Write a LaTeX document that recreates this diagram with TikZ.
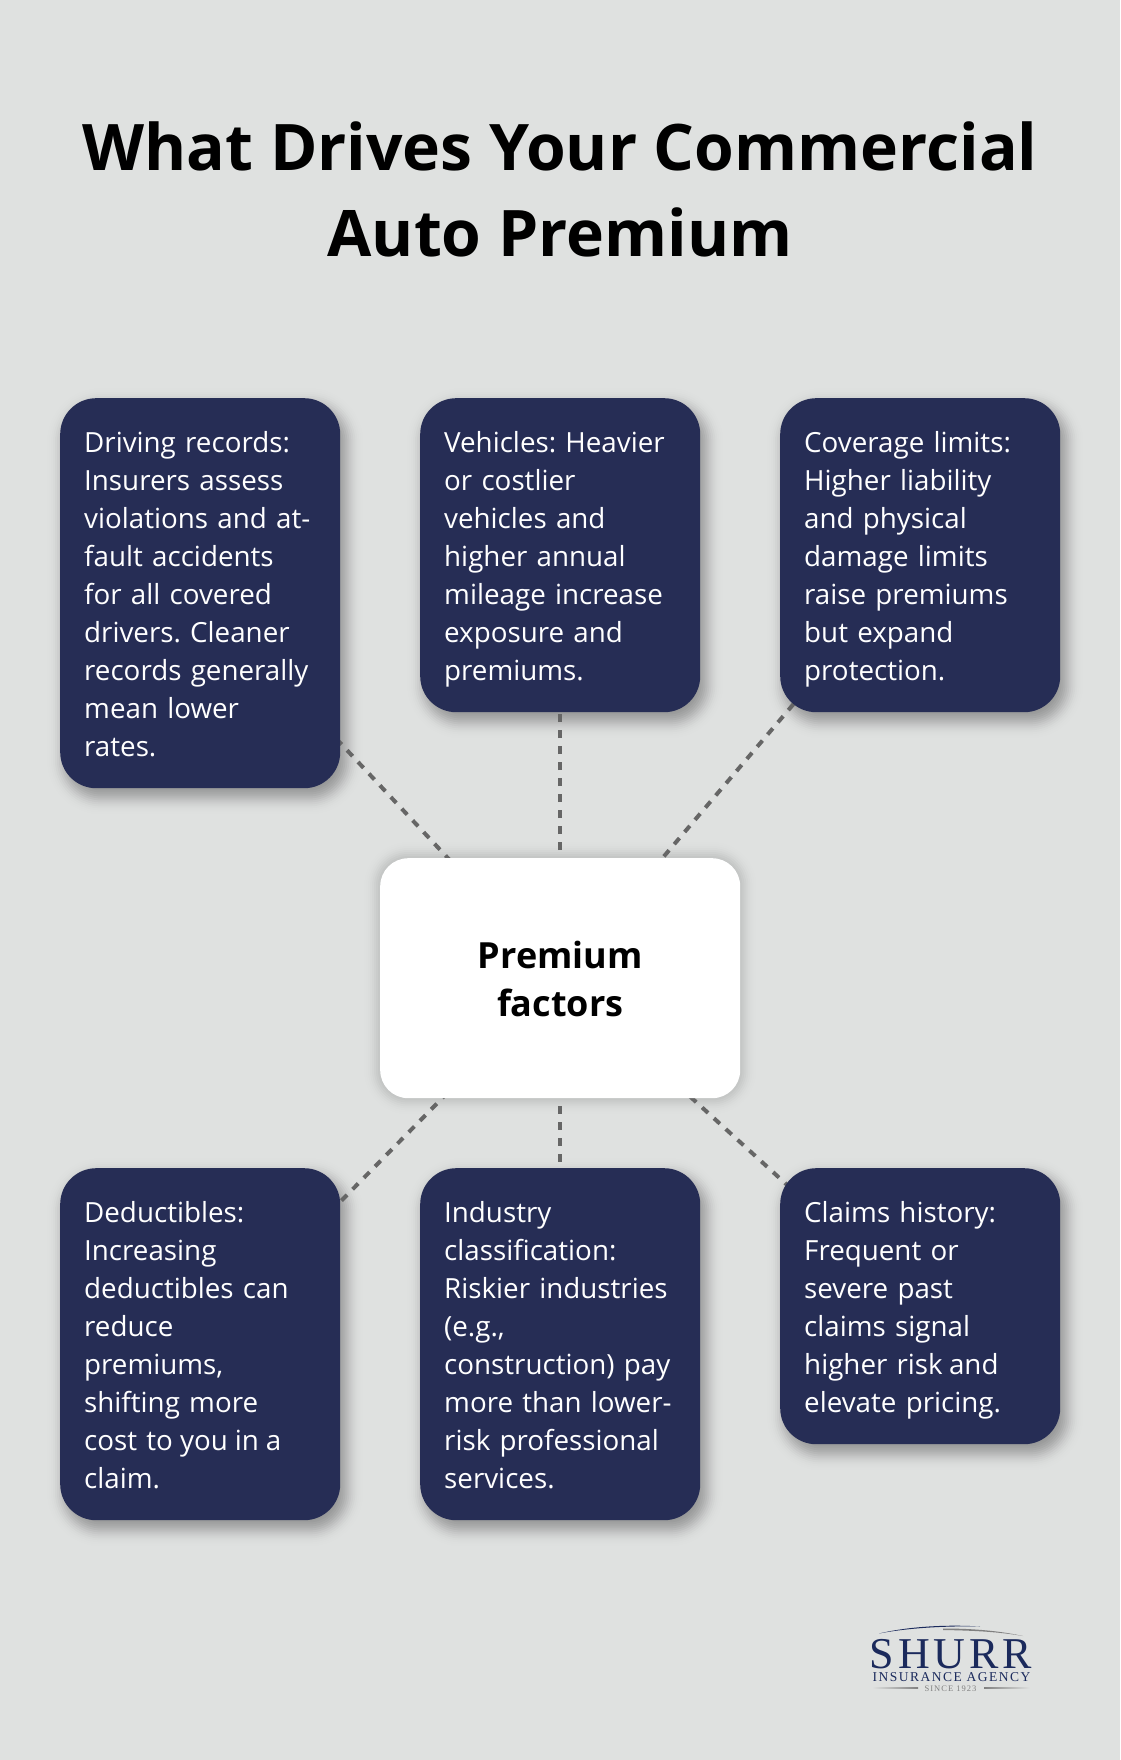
\documentclass[tikz,border=0pt]{standalone}
\usepackage{fontspec}
\usetikzlibrary{calc}
\setmainfont{Open Sans}
\newfontfamily\logofontA[LetterSpace=9]{Liberation Serif}
\newfontfamily\logofontB[LetterSpace=11]{Liberation Serif}
\newfontfamily\logofontC[LetterSpace=12]{Liberation Serif}
\definecolor{bgc}{HTML}{DFE1E0}
\definecolor{navy}{HTML}{262D55}
\definecolor{conn}{HTML}{666666}
\definecolor{logoblue}{HTML}{1B2A5C}
\pgfdeclarelayer{bglayer}
\pgfdeclarelayer{shadlayer}
\pgfdeclarelayer{connlayer}
\pgfsetlayers{bglayer,shadlayer,connlayer,main}
\newcommand{\ls}{\rule[-8pt]{0pt}{38pt}}
\newcommand{\cs}{\rule[-10pt]{0pt}{48pt}}
\tikzset{
  factorbox/.style={fill=navy,text=white,rounded corners=36pt,anchor=north west,
    text width=232pt,inner xsep=24pt,inner ysep=0pt,align=left,
    font=\fontsize{27.75}{38}\selectfont\frenchspacing},
  centerbox/.style={fill=white,text=black,rounded corners=28pt,anchor=north west,
    minimum width=360pt,minimum height=240pt,inner sep=0pt,align=center,
    font=\fontsize{36}{48}\selectfont\bfseries},
  connector/.style={draw=conn,line width=4pt,dash pattern=on 8pt off 8pt},
  titletext/.style={inner sep=0pt,align=center,text=black,font=\fontsize{64.2}{86}\selectfont\bfseries},
  logotext/.style={inner sep=0pt,text=logoblue,anchor=base},
}
% soft blurred shadow: stack of translucent rounded rectangles, gaussian weights
% #1 node, #2 radius, #3 total alpha, #4 x offset, #5 y offset
\newcommand{\softshadow}[5]{%
  \begin{pgfonlayer}{shadlayer}
  \foreach \k in {0,...,22}{
    \pgfmathsetmacro{\ex}{22-2*\k}
    \pgfmathsetmacro{\rr}{max(#2+\ex,1)}
    \pgfmathsetmacro{\aa}{#3*0.1026*exp(-(\ex/11)*(\ex/11))}
    \fill[black,opacity=\aa,rounded corners=\rr pt]
      ([shift={(#4-\ex,#5+\ex)}]#1.south west) rectangle
      ([shift={(#4+\ex,#5-\ex)}]#1.north east);
  }
  \end{pgfonlayer}}
\begin{document}
\begin{tikzpicture}[x=1pt,y=-1pt]
\useasboundingbox (0,0) rectangle (1120,1760);
\begin{pgfonlayer}{bglayer}
\fill[bgc] (0,0) rectangle (1120,1760);
\end{pgfonlayer}

\node[titletext] (title) at (560,189) {What Drives Your Commercial\\Auto Premium};

\node[factorbox,minimum height=390pt] (a) at (60,398) {\ls Driving records:\\\ls Insurers assess\\\ls violations and at-\\\ls fault accidents\\\ls for all covered\\\ls drivers. Cleaner\\\ls records generally\\\ls mean lower\\\ls rates.};
\node[factorbox,minimum height=314pt] (b) at (420,398) {\ls Vehicles: Heavier\\\ls or costlier\\\ls vehicles and\\\ls higher annual\\\ls mileage increase\\\ls exposure and\\\ls premiums.};
\node[factorbox,minimum height=314pt] (c) at (780,398) {\ls Coverage limits:\\\ls Higher liability\\\ls and physical\\\ls damage limits\\\ls raise premiums\\\ls but expand\\\ls protection.};
\node[centerbox] (m) at (380,858) {\cs Premium\\\cs factors};
\node[factorbox,minimum height=352pt] (d) at (60,1168) {\ls Deductibles:\\\ls Increasing\\\ls deductibles can\\\ls reduce\\\ls premiums,\\\ls shifting more\\\ls cost to\hspace{-2.2pt} you\hspace{-2.2pt} in\hspace{-2.2pt} a\\\ls claim.};
\node[factorbox,minimum height=352pt] (e) at (420,1168) {\ls Industry\\\ls classification:\\\ls Riskier industries\\\ls (e.g.,\\\ls construction) pay\\\ls more than lower-\\\ls risk professional\\\ls services.};
\node[factorbox,minimum height=276pt] (f) at (780,1168) {\ls Claims history:\\\ls Frequent or\\\ls severe past\\\ls claims signal\\\ls higher risk\hspace{-3pt} and\\\ls elevate pricing.};

\softshadow{a}{36}{0.4}{5}{8}
\softshadow{b}{36}{0.4}{5}{8}
\softshadow{c}{36}{0.4}{5}{8}
\softshadow{d}{36}{0.4}{5}{8}
\softshadow{e}{36}{0.4}{5}{8}
\softshadow{f}{36}{0.4}{5}{8}
\softshadow{m}{28}{0.25}{0}{0}

\begin{pgfonlayer}{connlayer}
\foreach \t in {a,b,c,d,e,f}{
  \draw[connector] (m.center) -- (\t.center);
}
\end{pgfonlayer}

% logo
\node[logotext,font={\logofontA\fontsize{44}{44}\selectfont}] (l1) at (951,1668) {SHURR};
\node[logotext,font={\logofontB\fontsize{13.5}{14}\selectfont}] (l2) at (951.5,1681) {INSURANCE AGENCY};
\node[logotext,text=gray,font={\logofontC\fontsize{8.5}{9}\selectfont}] (l3) at (950.5,1691) {SINCE 1923};
\fill[logoblue] (879,1633.5) .. controls (910,1626) and (950,1624.5) .. (980,1626.5)
   .. controls (950,1625.8) and (910,1627.5) .. (879,1633.5) -- cycle;
\fill[gray] (943,1628.5) .. controls (975,1628.5) and (1000,1631) .. (1023,1636)
   .. controls (1000,1632) and (975,1630.5) .. (943,1630) -- cycle;
\coordinate (ll1) at (872,1688);
\coordinate (ll2) at (918,1688);
\coordinate (lr1) at (984,1688);
\coordinate (lr2) at (1030,1688);
\shade[left color=bgc,right color=gray] ($(ll1)+(0,-0.6)$) rectangle ($(ll2)+(0,0.6)$);
\shade[left color=gray,right color=bgc] ($(lr1)+(0,-0.6)$) rectangle ($(lr2)+(0,0.6)$);
\end{tikzpicture}
\end{document}
